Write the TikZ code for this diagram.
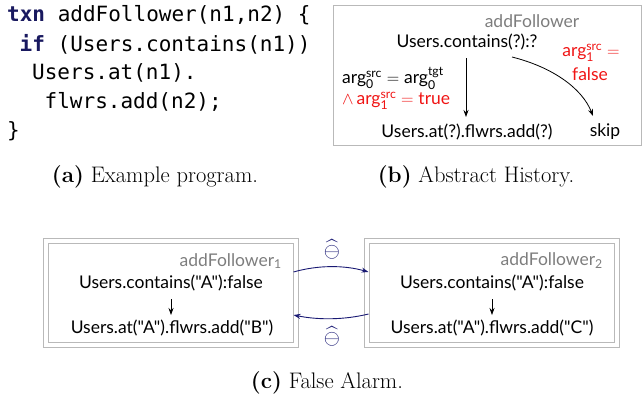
\documentclass[tikz,border=0pt]{standalone}
\usepackage{fontspec}
\usepackage{amsmath}
\setsansfont{Lato}[Ligatures=TeXOff]
\setmonofont{DejaVu Sans Mono}
\usetikzlibrary{arrows.meta}
\definecolor{kw}{RGB}{25,25,95}
\definecolor{boxgray}{RGB}{185,185,185}
\definecolor{lblgray}{RGB}{125,125,125}
\definecolor{navy}{RGB}{25,25,115}
\definecolor{hlred}{RGB}{240,20,20}
\newcommand{\argv}[2]{\text{arg}^{\text{#1}}_{\text{#2}}}
\tikzset{
  codeline/.style={anchor=west, inner sep=0pt, font=\ttfamily\fontsize{21}{24}\selectfont},
  txt/.style={inner sep=0pt, font=\sffamily\fontsize{17.5}{20}\selectfont},
  lbl/.style={txt, text=lblgray},
  caption/.style={inner sep=0pt, font=\rmfamily\fontsize{22.5}{26}\selectfont},
  frame/.style={draw=boxgray, line width=1pt},
  flow/.style={-{Stealth[length=7pt,width=5pt]}, line width=0.8pt},
  cmp/.style={-{Stealth[length=7pt,width=5pt]}, draw=navy, line width=0.9pt},
  opsym/.style={inner sep=0pt, text=navy, font=\fontsize{21}{24}\selectfont},
}
\begin{document}
\begin{tikzpicture}[x=1pt,y=-1pt]
\useasboundingbox (0,0) rectangle (642,400);

% (a) source of the transaction
\node[codeline] (l1) at (7,15)  {\textbf{\color{kw}txn} addFollower(n1,n2) \{};
\node[codeline] (l2) at (19.5,44) {\textbf{\color{kw}if} (Users.contains(n1))};
\node[codeline] (l3) at (32,73) {Users.at(n1).};
\node[codeline] (l4) at (44.5,102) {flwrs.add(n2);};
\node[codeline] (l5) at (7,131) {\}};
\node[caption] (capa) at (155,177) {\textbf{(a)} Example program.};

% (b) abstract history
\node[frame, minimum width=308pt, minimum height=140pt, inner sep=0pt] (hbox) at (487,75) {};
\node[lbl] (hname) at (532,21) {addFollower};
\node[txt] (hcont) at (467,42) {Users.contains(?):?};
\node[txt] (hadd) at (467,132) {Users.at(?).flwrs.add(?)};
\node[txt] (hskip) at (605,132) {skip};
\node[txt, anchor=west] (hcond1) at (342,78) {$\argv{src}{0} = \argv{tgt}{0}$};
\node[txt, anchor=west, text=hlred] (hcond2) at (342,101) {$\wedge\, \argv{src}{1} = \text{true}$};
\node[txt, text=hlred] (hcond3) at (591,53) {$\argv{src}{1} =$};
\node[txt, text=hlred] (hcond4) at (590,74) {false};
\coordinate (hd0) at (466,58);
\coordinate (hd1) at (466,117);
\coordinate (hs0) at (512,57);
\coordinate (hs1) at (593,116);
\draw[flow] (hd0) -- (hd1);
\draw[flow] (hs0) .. controls (552,67) and (582,88) .. (hs1);

\node[caption] (capb) at (476,177) {\textbf{(b)} Abstract History.};

% (c) two concrete instances
\node[frame, minimum width=255pt, minimum height=109pt, inner sep=0pt] (o1) at (170.5,292.5) {};
\node[frame, minimum width=245pt, minimum height=99pt, inner sep=0pt] (i1) at (170.5,292.5) {};
\node[frame, minimum width=255pt, minimum height=109pt, inner sep=0pt] (o2) at (491.5,292.5) {};
\node[frame, minimum width=245pt, minimum height=99pt, inner sep=0pt] (i2) at (491.5,292.5) {};

\node[lbl, anchor=east] (n1) at (282,261) {addFollower\textsubscript{1}};
\node[txt] (c1) at (171,283) {Users.contains("A"):false};
\node[txt] (a1) at (172,328) {Users.at("A").flwrs.add("B")};
\coordinate (d1a) at (171,299);
\coordinate (d1b) at (171,315);
\draw[flow, line width=0.7pt] (d1a) -- (d1b);

\node[lbl, anchor=east] (n2) at (603,261) {addFollower\textsubscript{2}};
\node[txt] (c2) at (492,283) {Users.contains("A"):false};
\node[txt] (a2) at (492,328) {Users.at("A").flwrs.add("C")};
\coordinate (d2a) at (492,299);
\coordinate (d2b) at (492,315);
\draw[flow, line width=0.7pt] (d2a) -- (d2b);

\draw[cmp] (i1.east |- 0,272) .. controls (318,265) and (344,265) .. (i2.west |- 0,272);
\draw[cmp] (i2.west |- 0,314) .. controls (344,320) and (318,320) .. (i1.east |- 0,315);
\node[opsym] (om1) at (332,249) {$\widehat{\ominus}$};
\node[opsym] (om2) at (332,336) {$\widehat{\ominus}$};

\node[caption] (capc) at (327,383) {\textbf{(c)} False Alarm.};
\end{tikzpicture}
\end{document}
